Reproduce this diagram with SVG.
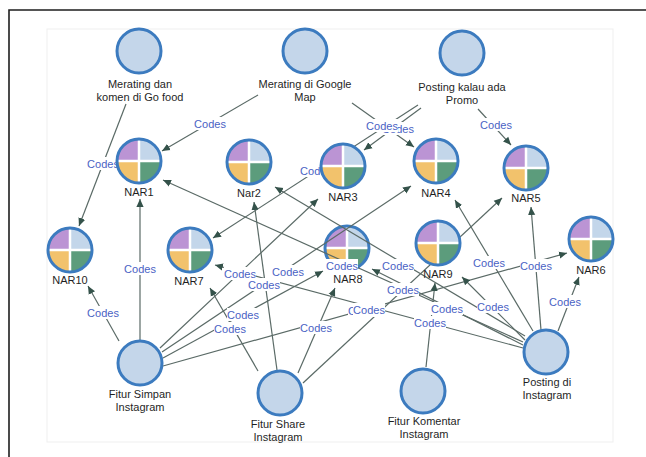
<svg xmlns="http://www.w3.org/2000/svg" xmlns:xlink="http://www.w3.org/1999/xlink" width="646" height="457" viewBox="0 0 646 457">
<style>
.frame{fill:none;stroke:#1e1e1e;stroke-width:1.6}
.inner{fill:none;stroke:#efefef;stroke-width:1}
.src{fill:#c4d6ea;stroke:#3c7bbf;stroke-width:3}
.ring{fill:none;stroke:#3c7bbf;stroke-width:3}
.nl{font-family:"Liberation Sans",Arial,sans-serif;font-size:11px;fill:#1f1f1f;text-anchor:middle}
.edge{stroke:#5a6a66;stroke-width:1.2;fill:none;marker-end:url(#arr)}
.lb{fill:#ffffff}
.lt{font-family:"Liberation Sans",Arial,sans-serif;font-size:11px;fill:#4a62c4;text-anchor:middle}
</style>
<defs>
<marker id="arr" viewBox="0 0 10 10" refX="10" refY="5" markerWidth="8" markerHeight="8" markerUnits="userSpaceOnUse" orient="auto">
<path d="M0,0.5 L10,5 L0,9.5 z" fill="#34524a"/>
</marker>
<g id="pie">
<path d="M0,0 L-22,0 A22,22 0 0 1 0,-22 Z" fill="#bb94d4"/>
<path d="M0,0 L0,-22 A22,22 0 0 1 22,0 Z" fill="#c3d6ea"/>
<path d="M0,0 L22,0 A22,22 0 0 1 0,22 Z" fill="#5c9c7c"/>
<path d="M0,0 L0,22 A22,22 0 0 1 -22,0 Z" fill="#f2c26c"/>
<path d="M-22,0 H22 M0,-22 V22" stroke="#ffffff" stroke-width="2.5"/>
<circle r="22" class="ring"/>
</g>
<g id="lab"><rect x="-16" y="-7" width="32" height="13" class="lb"/><text y="4" class="lt">Codes</text></g>
</defs>
<rect x="0" y="0" width="646" height="457" fill="#ffffff"/>
<path d="M9,457 V10 H646" class="frame"/>
<rect x="47" y="29" width="566" height="413" class="inner"/>

<g id="NAR8"><use xlink:href="#pie" x="347" y="248"/><text x="348" y="283" class="nl">NAR8</text></g>

<g id="connectors">
<line class="edge" x1="126" y1="104" x2="79" y2="226"/>
<line class="edge" x1="258" y1="95" x2="162" y2="151"/>
<line class="edge" x1="352" y1="103" x2="414" y2="147"/>
<line class="edge" x1="421" y1="108" x2="364" y2="150"/>
<line class="edge" x1="478" y1="109" x2="511" y2="145"/>
<line class="edge" x1="418" y1="105" x2="213" y2="238"/>
<line class="edge" x1="140" y1="340" x2="140" y2="199"/>
<line class="edge" x1="119" y1="341" x2="88" y2="286"/>
<line class="edge" x1="160" y1="348" x2="318" y2="199"/>
<line class="edge" x1="162" y1="352" x2="411" y2="186"/>
<line class="edge" x1="163" y1="358" x2="323" y2="271"/>
<line class="edge" x1="163" y1="366" x2="567" y2="253"/>
<line class="edge" x1="258" y1="371" x2="210" y2="288"/>
<line class="edge" x1="277" y1="370" x2="254" y2="202"/>
<line class="edge" x1="298" y1="373" x2="335" y2="288"/>
<line class="edge" x1="303" y1="383" x2="502" y2="198"/>
<line class="edge" x1="426" y1="367" x2="435" y2="283"/>
<line class="edge" x1="523" y1="342" x2="163" y2="180"/>
<line class="edge" x1="525" y1="336" x2="275" y2="187"/>
<line class="edge" x1="533" y1="331" x2="455" y2="200"/>
<line class="edge" x1="541" y1="330" x2="531" y2="207"/>
<line class="edge" x1="558" y1="331" x2="579" y2="277"/>
<line class="edge" x1="523" y1="348" x2="215" y2="265"/>
<line class="edge" x1="523" y1="345" x2="372" y2="269"/>
<line class="edge" x1="525" y1="340" x2="462" y2="277"/>
<use xlink:href="#lab" x="103" y="164"/>
<use xlink:href="#lab" x="210" y="124"/>
<use xlink:href="#lab" x="398" y="129"/>
<use xlink:href="#lab" x="382" y="126"/>
<use xlink:href="#lab" x="496" y="125"/>
<use xlink:href="#lab" x="316" y="171"/>
<use xlink:href="#lab" x="140" y="269"/>
<use xlink:href="#lab" x="103" y="313"/>
<use xlink:href="#lab" x="240" y="274"/>
<use xlink:href="#lab" x="288" y="272"/>
<use xlink:href="#lab" x="243" y="315"/>
<use xlink:href="#lab" x="364" y="311"/>
<use xlink:href="#lab" x="369" y="310"/>
<use xlink:href="#lab" x="230" y="329"/>
<use xlink:href="#lab" x="264" y="285"/>
<use xlink:href="#lab" x="316" y="328"/>
<use xlink:href="#lab" x="403" y="290"/>
<use xlink:href="#lab" x="430" y="323"/>
<use xlink:href="#lab" x="398" y="266"/>
<use xlink:href="#lab" x="489" y="263"/>
<use xlink:href="#lab" x="536" y="266"/>
<use xlink:href="#lab" x="565" y="302"/>
<use xlink:href="#lab" x="447" y="309"/>
<use xlink:href="#lab" x="493" y="307"/>
<use xlink:href="#lab" x="342" y="266"/>
</g>

<g id="GoFood"><circle cx="139" cy="51" r="22" class="src"/><text x="140" y="88" class="nl">Merating dan</text><text x="140" y="101" class="nl">komen di Go food</text></g>
<g id="GoogleMap"><circle cx="305" cy="51" r="22" class="src"/><text x="305" y="88" class="nl">Merating di Google</text><text x="305" y="101" class="nl">Map</text></g>
<g id="Promo"><circle cx="462" cy="53" r="22" class="src"/><text x="462" y="91" class="nl">Posting kalau ada</text><text x="462" y="104" class="nl">Promo</text></g>

<g id="NAR1"><use xlink:href="#pie" x="139" y="161"/><text x="139" y="196" class="nl">NAR1</text></g>
<g id="Nar2"><use xlink:href="#pie" x="249" y="162"/><text x="249" y="197" class="nl">Nar2</text></g>
<g id="NAR3"><use xlink:href="#pie" x="343" y="166"/><text x="343" y="201" class="nl">NAR3</text></g>
<g id="NAR4"><use xlink:href="#pie" x="436" y="161"/><text x="436" y="197" class="nl">NAR4</text></g>
<g id="NAR5"><use xlink:href="#pie" x="526" y="168"/><text x="526" y="202" class="nl">NAR5</text></g>
<g id="NAR10"><use xlink:href="#pie" x="70" y="250"/><text x="70" y="284" class="nl">NAR10</text></g>
<g id="NAR7"><use xlink:href="#pie" x="190" y="250"/><text x="189" y="285" class="nl">NAR7</text></g>
<g id="NAR9"><use xlink:href="#pie" x="438" y="243"/><text x="438" y="278" class="nl">NAR9</text></g>
<g id="NAR6"><use xlink:href="#pie" x="591" y="239"/><text x="591" y="274" class="nl">NAR6</text></g>

<g id="FiturSimpan"><circle cx="140" cy="363" r="22" class="src"/><text x="140" y="398" class="nl">Fitur Simpan</text><text x="140" y="411" class="nl">Instagram</text></g>
<g id="FiturShare"><circle cx="280" cy="393" r="22" class="src"/><text x="278" y="428" class="nl">Fitur Share</text><text x="278" y="441" class="nl">Instagram</text></g>
<g id="FiturKomentar"><circle cx="423" cy="391" r="22" class="src"/><text x="424" y="425" class="nl">Fitur Komentar</text><text x="424" y="438" class="nl">Instagram</text></g>
<g id="PostingIG"><circle cx="546" cy="352" r="22" class="src"/><text x="547" y="386" class="nl">Posting di</text><text x="547" y="399" class="nl">Instagram</text></g>
</svg>
